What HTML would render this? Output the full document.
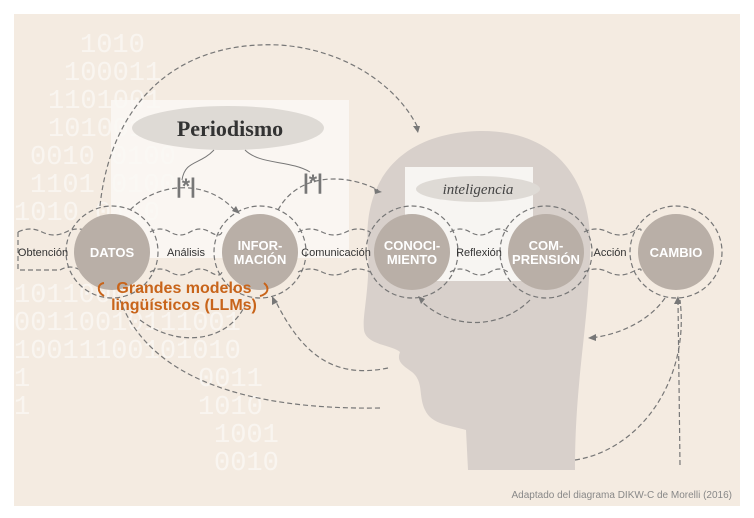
<!DOCTYPE html>
<html><head><meta charset="utf-8"><style>
body{margin:0;background:#fff;}
svg{display:block}
</style></head><body>
<svg width="754" height="518" viewBox="0 0 754 518" xmlns="http://www.w3.org/2000/svg" font-family="Liberation Sans, sans-serif">
<rect x="14" y="14" width="726" height="492" fill="#f4ebe1"/>
<g font-family="Liberation Mono, monospace" font-size="27" fill="#ffffff" opacity="0.5" xml:space="preserve" style="white-space:pre">
<text x="80" y="52">1010</text>
<text x="64" y="80">100011</text>
<text x="48" y="108">1101001</text>
<text x="48" y="136">1010010</text>
<text x="30" y="164">0010  0100</text>
<text x="30" y="192">1101  0100</text>
<text x="14" y="220">1010   0110</text>
<text x="14" y="302">1011000</text>
<text x="14" y="330">00110010111001</text>
<text x="14" y="358">10011100101010</text>
<text x="14" y="386">1</text><text x="198" y="386">0011</text>
<text x="14" y="414">1</text><text x="198" y="414">1010</text>
<text x="214" y="442">1001</text>
<text x="214" y="470">0010</text>
</g>
<rect x="111" y="100" width="238" height="158" fill="#faf8f5" opacity="0.85"/>
<path d="M368,250 C362,180 400,133 480,131 C560,130 594,185 590,255 C588,330 575,380 575,470 L468,470 L466,430 C450,425 432,425 425,410 C418,395 424,382 412,372 C404,366 396,362 400,352 C392,345 366,345 364,330 C362,315 370,290 368,250 Z" fill="#d8d0cb"/>
<rect x="405" y="167" width="128" height="114" fill="#f7f5f2"/>
<ellipse cx="228" cy="128" rx="96" ry="22" fill="#dedad5"/>
<text x="230" y="136" font-family="Liberation Serif, serif" font-weight="bold" font-size="22" fill="#333" text-anchor="middle">Periodismo</text>
<ellipse cx="478" cy="189" rx="62" ry="13" fill="#dedad5"/>
<text x="478" y="194" font-family="Liberation Serif, serif" font-style="italic" font-size="15" fill="#444" text-anchor="middle">inteligencia</text>
<g fill="none" stroke="#777" stroke-width="1.2" stroke-dasharray="5,3">
<path d="M18,232 L18,270 L60,270"/>
<path d="M18,232 Q30,226 42,232 T66,232 T90,232"/>
<path d="M60,270 Q70,264 80,270"/>
<path d="M150,232 Q160,226 170,232 T190,232 T210,232 T222,232"/>
<path d="M150,272 Q160,266 170,272 T190,272 T210,272 T222,272"/>
<path d="M298,232 Q310,226 322,232 T346,232 T370,232"/>
<path d="M298,272 Q310,266 322,272 T346,272 T370,272"/>
<path d="M450,232 Q460,226 470,232 T490,232 T508,232"/>
<path d="M450,272 Q460,266 470,272 T490,272 T508,272"/>
<path d="M584,232 Q596,226 608,232 T632,232 T640,232"/>
<path d="M584,272 Q596,266 608,272 T632,272 T640,272"/>
<circle cx="112" cy="252" r="46"/><circle cx="260" cy="252" r="46"/><circle cx="412" cy="252" r="46"/><circle cx="546" cy="252" r="46"/><circle cx="676" cy="252" r="46"/>
<path d="M100,206 C110,110 170,40 280,45 C350,50 400,90 418,128"/>
<path d="M130,210 C160,180 210,180 236,212"/>
<path d="M278,210 C300,170 350,175 378,190"/>
<path d="M530,300 C500,330 450,330 420,300"/>
<path d="M665,298 C650,320 620,335 590,338"/>
<path d="M680,465 L678,300"/>
<path d="M575,460 C640,450 690,380 680,300"/>
<path d="M388,368 C330,380 300,350 275,300"/>
<path d="M380,408 C250,410 150,380 120,300"/>
<path d="M140,320 C180,350 230,340 245,305"/>
</g>
<g fill="none" stroke="#777" stroke-width="1">
<path d="M214,150 C200,165 185,160 182,180"/><path d="M245,150 C260,165 290,160 310,172"/>
</g>
<g fill="#777">
<path d="M418,133 l-5,-7 l7,0z"/><path d="M240,214 l-8,-3 l4,-5z"/><path d="M382,192 l-8,-4 l1,6z"/>
<path d="M418,296 l3,8 l4,-5z"/><path d="M588,338 l8,-4 l0,7z"/><path d="M678,296 l-4,8 l7,0z"/>
<path d="M272,296 l0,9 l6,-3z"/>
</g>
<g font-size="21" font-weight="bold" fill="#777">
<text x="176" y="193">|*|</text><text x="303" y="189">|*|</text>
</g>
<g fill="#b9afa7">
<circle cx="112" cy="252" r="38"/><circle cx="260" cy="252" r="38"/><circle cx="412" cy="252" r="38"/><circle cx="546" cy="252" r="38"/><circle cx="676" cy="252" r="38"/>
</g>
<g fill="#fff" font-weight="bold" font-size="13" text-anchor="middle">
<text x="112" y="257">DATOS</text>
<text x="260" y="250">INFOR-</text><text x="260" y="264">MACIÓN</text>
<text x="412" y="250">CONOCI-</text><text x="412" y="264">MIENTO</text>
<text x="546" y="250">COM-</text><text x="546" y="264">PRENSIÓN</text>
<text x="676" y="257">CAMBIO</text>
</g>
<g fill="#333" font-size="11" text-anchor="middle">
<text x="43" y="256">Obtención</text><text x="186" y="256">Análisis</text><text x="336" y="256">Comunicación</text><text x="479" y="256">Reflexión</text><text x="610" y="256">Acción</text>
</g>
<g fill="#c8641a" font-weight="bold" font-size="16" text-anchor="middle">
<text x="184" y="293">Grandes modelos</text><text x="184" y="310">lingüísticos (LLMs)</text>
</g>
<g fill="none" stroke="#c8641a" stroke-width="2"><path d="M104,296 C97,292 97,284 104,283"/><path d="M260,296 C268,294 270,288 264,283"/></g>
<text x="732" y="498" font-size="10" fill="#888" text-anchor="end">Adaptado del diagrama DIKW-C de Morelli (2016)</text>
</svg>
</body></html>
